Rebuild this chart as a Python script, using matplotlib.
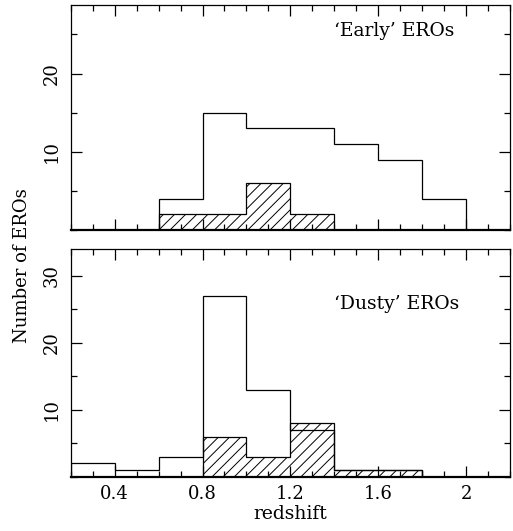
import matplotlib
matplotlib.use("Agg")
import matplotlib.pyplot as plt
import numpy as np
from matplotlib.ticker import MultipleLocator

plt.rcParams['font.family'] = 'DejaVu Serif'
plt.rcParams['hatch.linewidth'] = 0.7

# redshift bin edges (width 0.2)
edges = np.array([0.2, 0.4, 0.6, 0.8, 1.0, 1.2, 1.4, 1.6, 1.8, 2.0])

# 'Early' EROs
early_all = [0, 0, 4, 15, 13, 13, 11, 9, 4]
early_hatch = [0, 0, 2, 2, 6, 2, 0, 0, 0]

# 'Dusty' EROs
dusty_all = [2, 1, 3, 27, 13, 7, 1, 1, 0]
dusty_hatch = [0, 0, 0, 6, 3, 8, 1, 1, 0]

fig = plt.figure(figsize=(5.13, 5.31), dpi=100)
ax1 = fig.add_axes([0.138, 0.567, 0.856, 0.424])
ax2 = fig.add_axes([0.138, 0.102, 0.856, 0.429])


def draw(ax, allv, hatchv, label, ymax, lab_y):
    ax.stairs(hatchv, edges, fill=True, facecolor='none', edgecolor='black',
              hatch='///', linewidth=0.9)
    ax.stairs(allv, edges, fill=False, color='black', linewidth=0.9)
    ax.set_xlim(0.2, 2.2)
    ax.set_ylim(0, ymax)
    ax.xaxis.set_major_locator(MultipleLocator(0.4))
    ax.xaxis.set_minor_locator(MultipleLocator(0.1))
    ax.yaxis.set_minor_locator(MultipleLocator(5))
    ax.tick_params(which='both', direction='in', top=True, right=True,
                   width=0.9, labelsize=13)
    ax.tick_params(which='major', length=8)
    ax.tick_params(which='minor', length=4)
    ax.tick_params(axis='y', labelrotation=90, pad=7)
    for t in ax.get_yticklabels():
        t.set_va('center')
    for s in ax.spines.values():
        s.set_linewidth(0.9)
    ax.spines['bottom'].set_linewidth(1.6)
    ax.text(0.6, lab_y, label, transform=ax.transAxes, fontsize=13.5,
            ha='left', va='center')


draw(ax1, early_all, early_hatch, '\u2018Early\u2019 EROs', 28.8, 0.885)
draw(ax2, dusty_all, dusty_hatch, '\u2018Dusty\u2019 EROs', 34, 0.76)

ax1.set_yticks([10, 20])
ax1.set_xticklabels([])
ax2.set_yticks([10, 20, 30])
ax2.set_xticks([0.4, 0.8, 1.2, 1.6, 2.0])
ax2.set_xticklabels(['0.4', '0.8', '1.2', '1.6', '2'])
ax2.tick_params(axis='x', pad=6)
ax2.set_xlabel('redshift', fontsize=13.5, labelpad=1)

fig.text(0.043, 0.5, 'Number of EROs', rotation=90, ha='center', va='center',
         fontsize=13)

fig.savefig('out.png', dpi=100)
